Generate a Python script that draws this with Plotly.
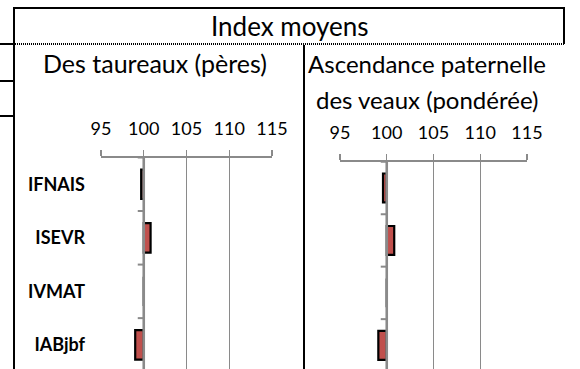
import plotly.graph_objects as go

# ---- data ----
categories = ["IFNAIS", "ISEVR", "IVMAT", "IABjbf"]
sires_index = [99.7, 100.8, 100.0, 99.0]          # Des taureaux (pères)
calves_sire_index = [99.6, 100.8, 100.0, 99.1]    # Ascendance paternelle des veaux (pondérée)
tick_values = [95, 100, 105, 110, 115]
tick_labels = ["95", "100", "105", "110", "115"]
base_value = 100
title_text = "Index moyens"
left_subtitle = "Des taureaux (pères)"
right_subtitle_1 = "Ascendance paternelle"
right_subtitle_2 = "des veaux (pondérée)"

W, H = 580, 369
FONT = "Lato"
GRID = "#8a8a8a"
BAR = "#C0504D"


def px(x):
    return x / W


def py(y):
    return 1 - y / H


fig = go.Figure()
for series, xa, ya in [(sires_index, "x", "y"), (calves_sire_index, "x2", "y2")]:
    fig.add_trace(go.Bar(
        y=categories,
        x=[v - base_value for v in series],
        base=base_value,
        orientation="h",
        xaxis=xa, yaxis=ya,
        width=0.55,
        marker=dict(color=BAR, line=dict(color="black", width=2.2)),
        showlegend=False,
    ))

xcommon = dict(
    range=[tick_values[0], tick_values[-1]],
    tickmode="array", tickvals=tick_values, ticktext=tick_labels,
    side="top", showgrid=True, gridcolor=GRID, gridwidth=1.3,
    showline=True, linecolor=GRID, linewidth=1.6,
    ticks="outside", ticklen=6, tickcolor=GRID, tickwidth=1.3,
    tickfont=dict(family=FONT, size=18, color="black"),
    ticklabelstandoff=8, zeroline=False, fixedrange=True, automargin=False,
)
ycommon = dict(
    type="category", categoryorder="array", categoryarray=categories,
    range=[3.45, -0.5], showgrid=False, showline=False, ticks="",
    zeroline=False, fixedrange=True, automargin=False,
)

fig.update_layout(
    width=W, height=H,
    margin=dict(l=0, r=0, t=0, b=0, pad=0, autoexpand=False),
    paper_bgcolor="white", plot_bgcolor="white",
    bargap=0.45,
    xaxis=dict(domain=[px(101), px(272)], anchor="y", **xcommon),
    yaxis=dict(domain=[0, py(157.5)], anchor="x",
               tickfont=dict(family=FONT, size=18, color="black", weight="bold"),
               ticklabelstandoff=15, **ycommon),
    xaxis2=dict(domain=[px(340), px(527)], anchor="y2", **xcommon),
    yaxis2=dict(domain=[0, py(161.7)], anchor="x2", showticklabels=False, **ycommon),
)

shapes = []
# category axis crossing at 100 with boundary ticks
for xr, yr in [("x", "y"), ("x2", "y2")]:
    shapes.append(dict(type="line", xref=xr, yref=yr + " domain", x0=base_value, x1=base_value,
                       y0=0, y1=1, line=dict(color=GRID, width=2.6), layer="above"))
    for i in range(len(categories)):
        shapes.append(dict(type="line", xref=xr, yref=yr, xsizemode="pixel", xanchor=base_value,
                           x0=-6, x1=0, y0=i - 0.5, y1=i - 0.5,
                           line=dict(color=GRID, width=2)))

# spreadsheet cell borders
blk = dict(color="black", width=2)
shapes += [
    dict(type="line", xref="paper", yref="paper", x0=px(14), x1=px(14), y0=py(7), y1=0, line=blk),
    dict(type="line", xref="paper", yref="paper", x0=px(14), x1=px(565), y0=py(8), y1=py(8), line=blk),
    dict(type="line", xref="paper", yref="paper", x0=px(564), x1=px(564), y0=py(7), y1=py(44), line=blk),
    dict(type="line", xref="paper", yref="paper", x0=px(15), x1=px(565), y0=py(44), y1=py(44),
         line=dict(color="black", width=2, dash="1px,1px")),
    dict(type="line", xref="paper", yref="paper", x0=0, x1=px(14), y0=py(44), y1=py(44), line=blk),
    dict(type="line", xref="paper", yref="paper", x0=0, x1=px(14), y0=py(81), y1=py(81), line=blk),
    dict(type="line", xref="paper", yref="paper", x0=0, x1=px(14), y0=py(116), y1=py(116), line=blk),
    dict(type="line", xref="paper", yref="paper", x0=px(304), x1=px(304), y0=py(45), y1=0, line=blk),
]
fig.update_layout(shapes=shapes)


def label(text, x, y, size):
    fig.add_annotation(text=text, xref="paper", yref="paper", x=px(x), y=py(y),
                       xanchor="center", yanchor="middle", showarrow=False,
                       font=dict(family=FONT, size=size, color="black"))


label(title_text, 290, 26, 26)
label(left_subtitle, 155, 63, 25)
label(right_subtitle_1, 427, 63, 24)
label(right_subtitle_2, 427, 99, 24)

fig.write_html(
    "out.html",
    config={"displayModeBar": False, "staticPlot": True},
    post_script="document.body.style.margin='0';document.body.style.overflow='hidden';",
)
